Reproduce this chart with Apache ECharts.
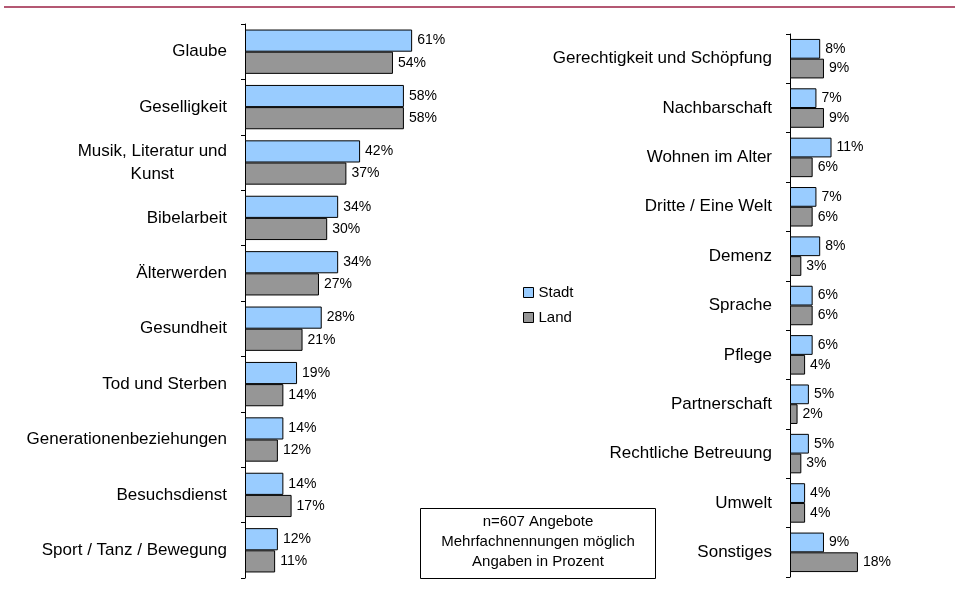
<!DOCTYPE html>
<html>
<head>
<meta charset="utf-8">
<script src="https://cdn.jsdelivr.net/npm/echarts@6/dist/echarts.min.js"></script>
<style>
  html, body { margin: 0; padding: 0; background: #fff; }
  #chart { width: 955px; height: 591px; }
</style>
</head>
<body>
<div id="chart"></div>
<script>
const leftCategories = ['Glaube', 'Geselligkeit', 'Musik, Literatur und\nKunst', 'Bibelarbeit', 'Älterwerden',
  'Gesundheit', 'Tod und Sterben', 'Generationenbeziehungen', 'Besuchsdienst', 'Sport / Tanz / Bewegung']
const leftStadt = [61, 58, 42, 34, 34, 28, 19, 14, 14, 12]
const leftLand = [54, 58, 37, 30, 27, 21, 14, 12, 17, 11]

const rightCategories = ['Gerechtigkeit und Schöpfung', 'Nachbarschaft', 'Wohnen im Alter', 'Dritte / Eine Welt',
  'Demenz', 'Sprache', 'Pflege', 'Partnerschaft', 'Rechtliche Betreuung', 'Umwelt', 'Sonstiges']
const rightStadt = [8, 7, 11, 7, 8, 6, 6, 5, 5, 4, 9]
const rightLand = [9, 9, 6, 6, 3, 6, 4, 2, 3, 4, 18]

const noteLines = ['n=607 Angebote', 'Mehrfachnennungen möglich', 'Angaben in Prozent']

const FONT = 'Liberation Sans, Arial, sans-serif'
const BLUE = '#99ccff'
const GRAY = '#969696'

// wrapped labels: second line centred under the first, like Excel does
function labelFormatter(value) {
  const parts = value.split('\n')
  if (parts.length < 2) return value
  return parts[0] + '\n{c|' + parts[1] + '}'
}

function yAxisFor(cats, gridIndex) {
  return {
    type: 'category',
    gridIndex,
    data: cats,
    inverse: true,
    axisLine: { lineStyle: { color: '#000', width: 1 } },
    axisTick: { show: true, inside: false, length: 4, lineStyle: { color: '#000', width: 1 } },
    axisLabel: {
      color: '#000', fontSize: 17, fontFamily: FONT, margin: 18, lineHeight: 23,
      formatter: labelFormatter,
      rich: { c: { width: 149, align: 'center', fontSize: 17, fontFamily: FONT, color: '#000', lineHeight: 23 } }
    }
  }
}

function barSeries(name, data, color, idx) {
  return {
    name,
    type: 'bar',
    xAxisIndex: idx,
    yAxisIndex: idx,
    data,
    barGap: '0%',
    barCategoryGap: '20%',
    itemStyle: { color, borderColor: '#000', borderWidth: 1 },
    label: {
      show: true,
      position: 'right',
      distance: 5,
      formatter: '{c}%',
      color: '#000',
      fontSize: 14,
      fontFamily: FONT
    }
  }
}

const chart = echarts.init(document.getElementById('chart'))
chart.setOption({
  animation: false,
  backgroundColor: '#fff',
  textStyle: { fontFamily: FONT },
  legend: {
    data: ['Stadt', 'Land'],
    orient: 'vertical',
    left: 518,
    top: 280,
    icon: 'rect',
    itemWidth: 10,
    itemHeight: 10,
    itemGap: 10,
    textStyle: { color: '#000', fontSize: 15, fontFamily: FONT },
    itemStyle: { borderColor: '#000', borderWidth: 1 }
  },
  grid: [
    { left: 245, top: 24, width: 274, height: 554 },
    { left: 790, top: 34, width: 151, height: 543 }
  ],
  xAxis: [
    { type: 'value', gridIndex: 0, min: 0, max: 100, show: false },
    { type: 'value', gridIndex: 1, min: 0, max: 40, show: false }
  ],
  yAxis: [yAxisFor(leftCategories, 0), yAxisFor(rightCategories, 1)],
  series: [
    barSeries('Stadt', leftStadt, BLUE, 0),
    barSeries('Land', leftLand, GRAY, 0),
    barSeries('Stadt', rightStadt, BLUE, 1),
    barSeries('Land', rightLand, GRAY, 1)
  ],
  graphic: [
    {
      type: 'line',
      shape: { x1: 4, y1: 7, x2: 955, y2: 7 },
      style: { stroke: '#b45873', lineWidth: 2 }
    },
    {
      type: 'rect',
      shape: { x: 420.5, y: 508.5, width: 235, height: 70 },
      style: { fill: '#fff', stroke: '#000', lineWidth: 1 }
    },
    {
      type: 'text',
      x: 538,
      y: 512,
      style: {
        text: noteLines.join('\n'),
        align: 'center',
        verticalAlign: 'top',
        fill: '#000',
        fontSize: 15,
        lineHeight: 20,
        fontFamily: FONT
      }
    }
  ]
})
</script>
</body>
</html>
